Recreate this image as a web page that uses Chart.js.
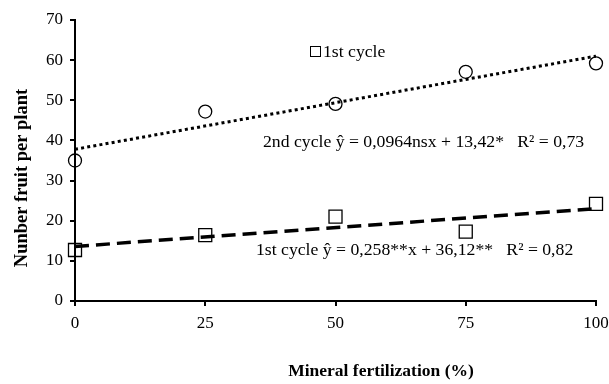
<!DOCTYPE html>
<html>
<head>
<meta charset="utf-8">
<script src="https://cdn.jsdelivr.net/npm/chart.js@4/dist/chart.umd.min.js"></script>
<style>
  html, body { margin: 0; padding: 0; background: #fff; }
  #wrap { width: 609px; height: 384px; }
</style>
</head>
<body>
<div id="wrap"><canvas id="chart" width="609" height="384"></canvas></div>
<script>
// dados
var doses = [0, 25, 50, 75, 100];
var cycle1 = [12.7, 16.4, 21.0, 17.3, 24.2];   // quadrados
var cycle2 = [35.0, 47.2, 49.1, 57.1, 59.2];   // circulos
var trendX = [0, 100];
var trend1 = [13.6, 23.0];   // linha tracejada
var trend2 = [37.8, 61.0];   // linha pontilhada
var xTicks = [0, 25, 50, 75, 100];
var yTicks = [0, 10, 20, 30, 40, 50, 60, 70];

var legendLabel = '1st cycle';
var eq2 = '2nd cycle \u0177 = 0,0964nsx + 13,42*   R\u00b2 = 0,73';
var eq1 = '1st cycle \u0177 = 0,258**x + 36,12**   R\u00b2 = 0,82';
var xTitle = 'Mineral fertilization (%)';
var yTitle = 'Nunber fruit per plant';

var FONT = "'Liberation Serif', 'Times New Roman', serif";

function toPoints(xs, ys){
  return xs.map(function(x, i){ return { x: x, y: ys[i] }; });
}

// textos soltos: equacoes, legenda e titulos dos eixos
var textPlugin = {
  id: 'texts',
  afterDraw: function(chart){
    var ctx = chart.ctx;
    ctx.save();
    ctx.fillStyle = '#000';
    ctx.textBaseline = 'middle';

    ctx.font = '17.7px ' + FONT;
    ctx.textAlign = 'left';
    ctx.fillText(eq2, 263, 142);
    ctx.fillText(eq1, 256, 250);

    // legenda
    ctx.fillStyle = '#fff';
    ctx.fillRect(310.5, 46.5, 10, 10);
    ctx.strokeStyle = '#000';
    ctx.lineWidth = 1;
    ctx.strokeRect(310.5, 46.5, 10, 10);
    ctx.fillStyle = '#000';
    ctx.fillText(legendLabel, 323, 52);

    // titulos
    ctx.font = 'bold 17.5px ' + FONT;
    ctx.textAlign = 'center';
    ctx.fillText(xTitle, 381, 371);
    ctx.font = 'bold 18.5px ' + FONT;
    ctx.translate(22, 178);
    ctx.rotate(-Math.PI / 2);
    ctx.fillText(yTitle, 0, 0);
    ctx.restore();
  }
};

var axisStyle = {
  border: { display: true, color: '#000', width: 2 },
  grid: { drawOnChartArea: false, drawTicks: true, tickLength: 5, color: '#000', lineWidth: 2 }
};

new Chart(document.getElementById('chart'), {
  type: 'scatter',
  data: {
    datasets: [
      {
        label: '2nd cycle trend',
        type: 'line',
        data: toPoints(trendX, trend2),
        borderColor: '#000',
        borderWidth: 3,
        borderDash: [3, 3.2],
        pointRadius: 0,
        fill: false
      },
      {
        label: '1st cycle trend',
        type: 'line',
        data: toPoints(trendX, trend1),
        borderColor: '#000',
        borderWidth: 3.5,
        borderDash: [14, 7],
        pointRadius: 0,
        fill: false
      },
      {
        label: '2nd cycle',
        data: toPoints(doses, cycle2),
        clip: false,
        pointStyle: 'circle',
        pointRadius: 6.5,
        pointBorderWidth: 1.3,
        pointBackgroundColor: 'rgba(255,255,255,0)',
        pointBorderColor: '#000'
      },
      {
        label: legendLabel,
        data: toPoints(doses, cycle1),
        clip: false,
        pointStyle: 'rect',
        pointRadius: 9.2,
        pointBorderWidth: 1.3,
        pointBackgroundColor: 'rgba(255,255,255,0)',
        pointBorderColor: '#000'
      }
    ]
  },
  options: {
    responsive: false,
    animation: false,
    layout: { padding: { top: 20, right: 13, left: 0, bottom: 0 } },
    plugins: {
      legend: { display: false },
      tooltip: { enabled: false }
    },
    scales: {
      x: Object.assign({
        type: 'linear',
        min: 0,
        max: 100,
        afterBuildTicks: function(scale){
          scale.ticks = xTicks.map(function(v){ return { value: v }; });
        },
        afterFit: function(scale){
          scale.height = 83;
          scale.paddingRight = 0;
          scale.paddingLeft = 0;
        },
        ticks: { color: '#000', padding: 7, font: { family: FONT, size: 17 } }
      }, axisStyle),
      y: Object.assign({
        min: 0,
        max: 70,
        afterBuildTicks: function(scale){
          scale.ticks = yTicks.map(function(v){ return { value: v }; });
        },
        afterFit: function(scale){ scale.width = 75; },
        ticks: { color: '#000', padding: 7, font: { family: FONT, size: 17 } }
      }, axisStyle)
    }
  },
  plugins: [textPlugin]
});
</script>
</body>
</html>
